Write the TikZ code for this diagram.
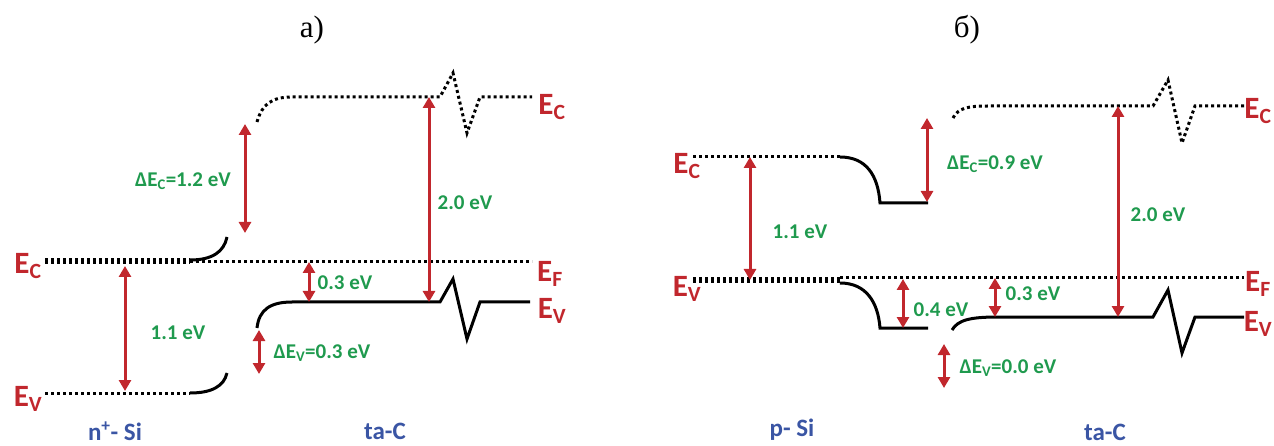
\documentclass[tikz,border=0pt]{standalone}
\usepackage{fontspec}
\setmainfont{Liberation Serif}
\newfontfamily\labelfont{Carlito}
\usetikzlibrary{arrows.meta}
\definecolor{BandRed}{HTML}{C1272D}
\definecolor{GapGreen}{HTML}{1F9A4E}
\definecolor{SideBlue}{HTML}{3A55A4}

\begin{document}
\begin{tikzpicture}[x=1pt,y=-1pt,
    solidband/.style={line width=3pt,black},
    dotband/.style={line width=3pt,black,dash pattern=on 3pt off 3pt},
    thickdot/.style={line width=6pt,black,dash pattern=on 3pt off 3pt},
    gaparrow/.style={{Triangle[length=11pt,width=12pt]}-{Triangle[length=11pt,width=12pt]},line width=3pt,draw=BandRed},
    level/.style={font=\labelfont\bfseries\fontsize{31}{32}\selectfont,text=BandRed,inner sep=0pt},
    gaplabel/.style={font=\labelfont\bfseries\fontsize{21}{23}\selectfont,text=GapGreen,inner sep=0pt},
    side/.style={font=\labelfont\bfseries\fontsize{25}{27}\selectfont,text=SideBlue,inner sep=0pt},
    panel/.style={font=\fontsize{31}{32}\selectfont,inner sep=0pt}
]
\useasboundingbox (0,0) rectangle (1274,446);

% ---- panel a: n+-Si / ta-C
\node[panel] (ta) at (312,30) {а)};

% n+-Si bands
\draw[thickdot] (45,261) -- (190,261);
\draw[solidband] (190,260) .. controls (212,260) and (224,252) .. (227,237);
\draw[dotband] (45,393) -- (190,393);
\draw[solidband] (190,393) .. controls (212,393) and (224,386) .. (227,373);
% Fermi level
\draw[dotband] (190,262) -- (532,262);
% ta-C bands
\draw[dotband] (257,122) .. controls (262,104) and (272,97) .. (292,97)
  -- (440,97) -- (453,73) -- (467,133) -- (480,97) -- (532,97);
\draw[solidband] (257,328) .. controls (259,310) and (270,302) .. (292,302)
  -- (440,302) -- (453,279) -- (467,339) -- (480,302) -- (530,302);

\node[level] (ecna) at (28,266) {E\textsubscript{C}};
\node[level] (evna) at (28,399) {E\textsubscript{V}};
\node[level] (ecta) at (552,107) {E\textsubscript{C}};
\node[level] (efa) at (550,274) {E\textsubscript{F}};
\node[level] (evta) at (552,311) {E\textsubscript{V}};

\coordinate (a1t) at (125,266);
\coordinate (a1b) at (125,391);
\coordinate (a2t) at (245,124);
\coordinate (a2b) at (245,233);
\coordinate (a3t) at (309,262);
\coordinate (a3b) at (309,302);
\coordinate (a4t) at (429,97);
\coordinate (a4b) at (429,302);
\coordinate (a5t) at (259,330);
\coordinate (a5b) at (259,374);
\draw[gaparrow] (a1t) -- (a1b);
\draw[gaparrow] (a2t) -- (a2b);
\draw[gaparrow] (a3t) -- (a3b);
\draw[gaparrow] (a4t) -- (a4b);
\draw[gaparrow] (a5t) -- (a5b);

\node[gaplabel] (ga1) at (178,333) {1.1 eV};
\node[gaplabel] (ga2) at (183,181) {ΔE\textsubscript{C}=1.2 eV};
\node[gaplabel] (ga3) at (345,283) {0.3 eV};
\node[gaplabel] (ga4) at (465,203) {2.0 eV};
\node[gaplabel] (ga5) at (322,353) {ΔE\textsubscript{V}=0.3 eV};

\node[side] (sia) at (115,431) {n\textsuperscript{+}- Si};
\node[side] (tca) at (385,431) {ta-C};

% ---- panel b: p-Si / ta-C
\node[panel] (tb) at (967,30) {б)};

% p-Si bands
\draw[dotband] (693,157) -- (840,157);
\draw[solidband] (840,157) .. controls (866,157) and (878,175) .. (880,203) -- (928,203);
\draw[thickdot] (693,280.5) -- (840,280.5);
\draw[solidband] (840,283) .. controls (866,283) and (878,302) .. (880,328) -- (928,328);
% Fermi level
\draw[dotband] (840,278) -- (1244,278);
% ta-C bands
\draw[dotband] (953,118) .. controls (958,108) and (968,106) .. (988,106)
  -- (1153,106) -- (1168,80) -- (1182,143) -- (1195,106) -- (1244,106);
\draw[solidband] (952,330) .. controls (958,320) and (970,317) .. (998,317)
  -- (1153,317) -- (1168,290) -- (1182,353) -- (1195,317) -- (1244,317);

\node[level] (ecp) at (687,166) {E\textsubscript{C}};
\node[level] (evp) at (687,289) {E\textsubscript{V}};
\node[level] (ectb) at (1258,111) {E\textsubscript{C}};
\node[level] (efb) at (1258,284) {E\textsubscript{F}};
\node[level] (evtb) at (1258,324) {E\textsubscript{V}};

\coordinate (b1t) at (750,157);
\coordinate (b1b) at (750,280);
\coordinate (b2t) at (927,118);
\coordinate (b2b) at (927,202);
\coordinate (b3t) at (903,279);
\coordinate (b3b) at (903,328);
\coordinate (b4t) at (995,278);
\coordinate (b4b) at (995,317);
\coordinate (b5t) at (1118,106);
\coordinate (b5b) at (1118,317);
\coordinate (b6t) at (944,344);
\coordinate (b6b) at (944,388);
\draw[gaparrow] (b1t) -- (b1b);
\draw[gaparrow] (b2t) -- (b2b);
\draw[gaparrow] (b3t) -- (b3b);
\draw[gaparrow] (b4t) -- (b4b);
\draw[gaparrow] (b5t) -- (b5b);
\draw[gaparrow] (b6t) -- (b6b);

\node[gaplabel] (gb1) at (800,232) {1.1 eV};
\node[gaplabel] (gb2) at (995,164) {ΔE\textsubscript{C}=0.9 eV};
\node[gaplabel] (gb3) at (941,310) {0.4 eV};
\node[gaplabel] (gb4) at (1033,294) {0.3 eV};
\node[gaplabel] (gb5) at (1158,215) {2.0 eV};
\node[gaplabel] (gb6) at (1008,368) {ΔE\textsubscript{V}=0.0 eV};

\node[side] (sib) at (792,430) {p- Si};
\node[side] (tcb) at (1105,432) {ta-C};
\end{tikzpicture}
\end{document}
